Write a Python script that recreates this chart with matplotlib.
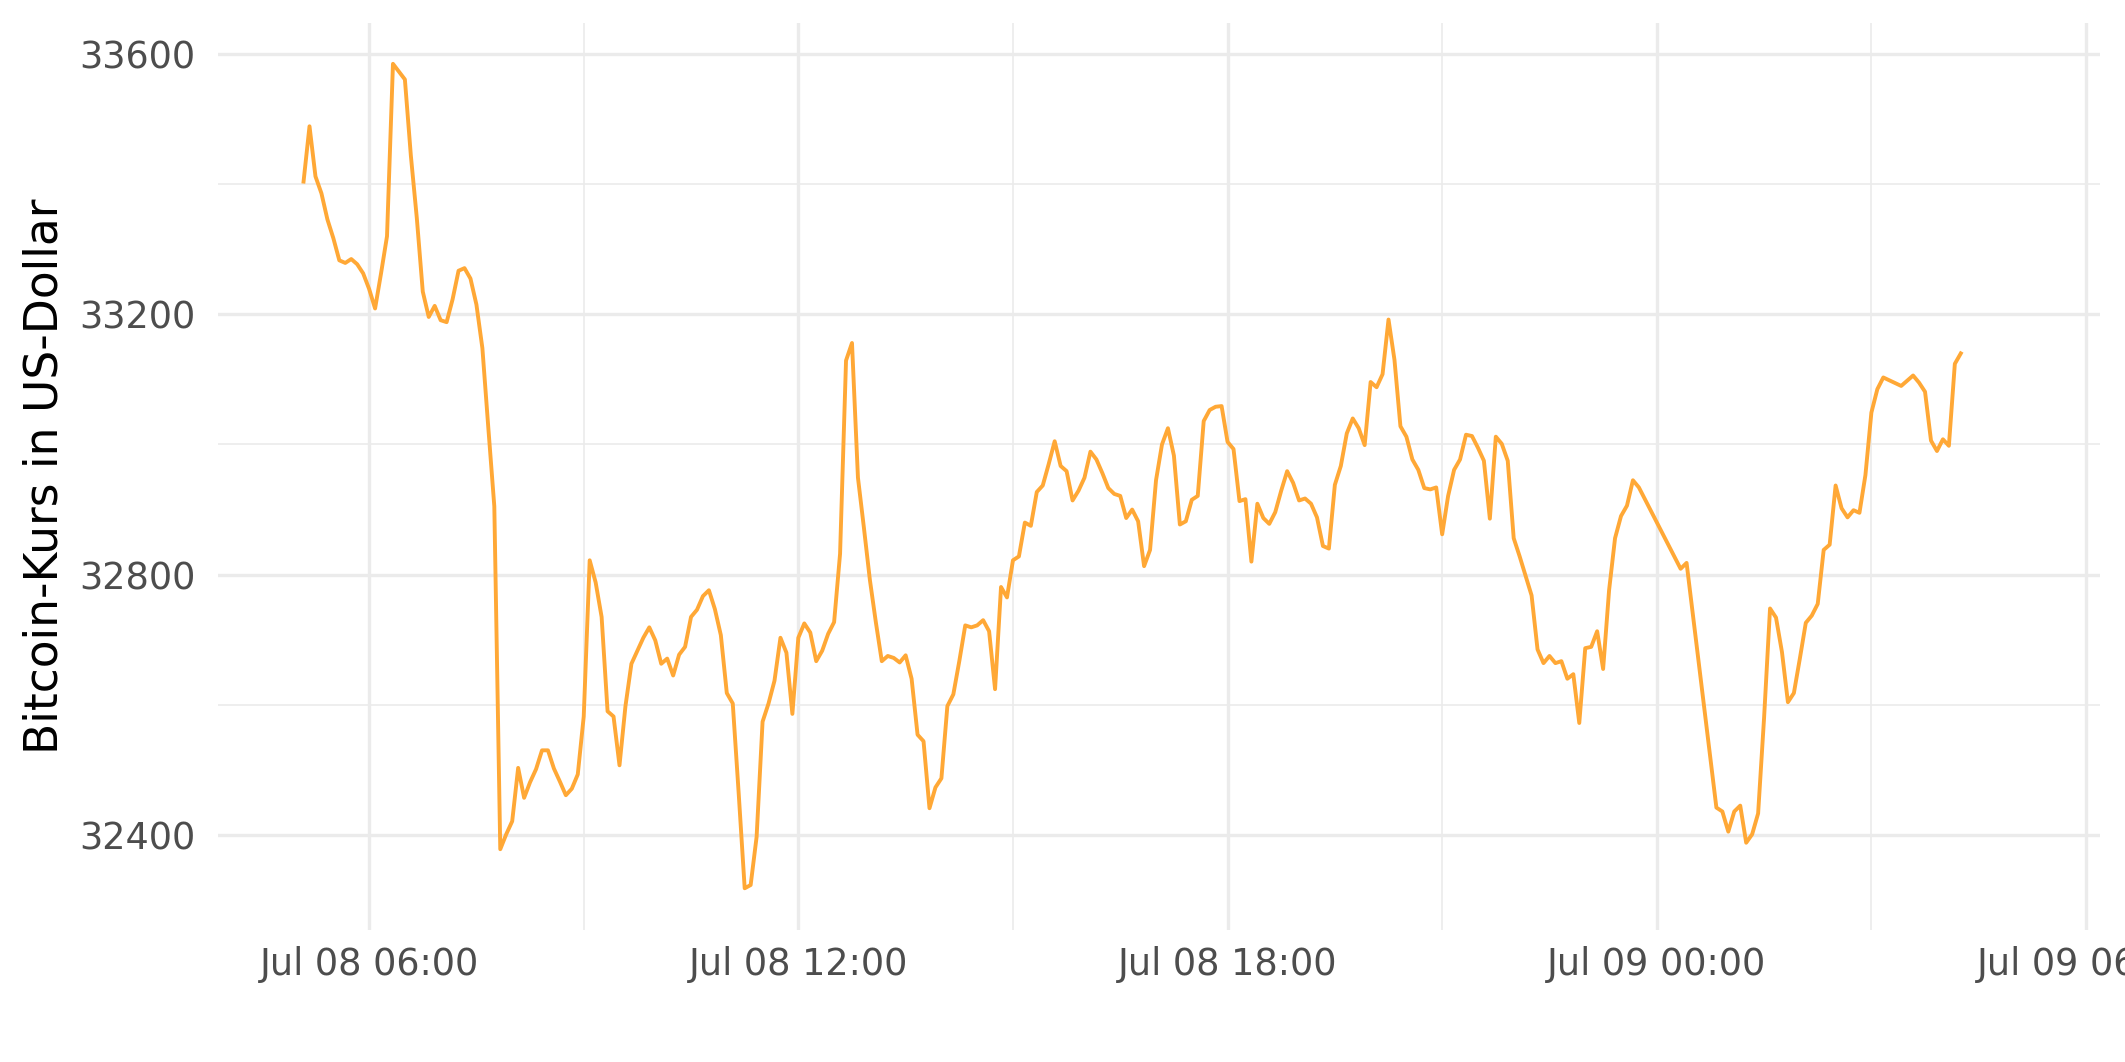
import numpy as np
import pandas as pd
import matplotlib
matplotlib.use('Agg')
import matplotlib.pyplot as plt
import matplotlib.dates as mdates
from matplotlib.ticker import MultipleLocator

# Bitcoin-Kurs in 5-Minuten-Schritten ab 08.07.2021 05:05 (24 Stunden)
start_time = '2021-07-08 05:05'
step = '5min'
n_points = 288

# Kurse in US-Dollar, None = kein Wert vorhanden
price_usd = [
    33404, 33489, 33412, 33386, 33346, 33317, 33283, 33279, 33285, 33277,
    33263, 33239, 33209, 33263, 33320, 33585, 33573, 33561, 33444, 33348,
    33235, 33196, 33213, 33191, 33188, 33223, 33267, 33271, 33255, 33215,
    33148, 33025, 32905, 32378, 32401, 32421, 32503, 32457, 32481, 32501,
    32530, 32530, 32502, 32482, 32461, 32471, 32493, 32582, 32822, 32788,
    32735, 32590, 32582, 32507, 32598, 32663, 32683, 32703, 32719, 32699,
    32663, 32671, 32645, 32677, 32689, 32735, 32746, 32767, 32776, 32747,
    32707, 32618, 32602, 32463, 32318, 32323, 32397, 32574, 32602, 32637,
    32703, 32680, 32586, 32703, 32725, 32711, 32667, 32683, 32709, 32727,
    32832, 33129, 33156, 32949, 32872, 32792, 32727, 32667, 32675, 32672,
    32665, 32676, 32640, 32554, 32544, 32441, 32473, 32487, 32598, 32616,
    32667, 32722, 32719, 32722, 32730, 32713, 32624, 32781, 32765, 32822,
    32828, 32880, 32875, 32927, 32937, 32970, 33005, 32967, 32959, 32914,
    32929, 32949, 32989, 32977, 32956, 32933, 32924, 32921, 32887, 32900,
    32882, 32813, 32838, 32945, 33000, 33025, 32983, 32877, 32882, 32915,
    32921, 33036, 33053, 33058, 33059, 33004, 32993, 32913, 32916, 32820,
    32909, 32887, 32878, 32896, 32929, 32959, 32941, 32914, 32917, 32909,
    32888, 32844, 32840, 32938, 32967, 33017, 33040, 33025, 32999, 33096,
    33088, 33108, 33192, 33130, 33028, 33012, 32977, 32961, 32933, 32931,
    32934, 32862, 32921, 32961, 32977, 33015, 33013, 32995, 32975, 32886,
    33012, 33001, 32975, 32856, 32828, 32798, 32768, 32685, 32664, 32675,
    32664, 32667, 32640, 32647, 32572, 32687, 32689, 32713, 32655, 32776,
    32856, 32890, 32906, 32945, 32934, None, None, None, None, None,
    None, 32809, 32818, None, None, None, None, 32442, 32436, 32405,
    32436, 32445, 32388, 32401, 32433, 32580, 32748, 32734, 32681, 32604,
    32618, 32671, 32726, 32737, 32755, 32838, 32846, 32937, 32902, 32888,
    32899, 32895, 32953, 33049, 33085, 33103, None, None, 33090, None,
    33106, 33095, 33081, 33006, 32990, 33008, 32998, 33124, 33140,
]
# die letzten Werte fehlen noch
price_usd = price_usd + [None] * (n_points - len(price_usd))

y_title = 'Bitcoin-Kurs in US-Dollar'
line_color = '#FFA836'
grid_color = '#EBEBEB'
text_color = '#4D4D4D'

times = pd.date_range(start_time, periods=n_points, freq=step)
df = pd.DataFrame({'time': times, 'price': pd.to_numeric(pd.Series(price_usd), errors='coerce')})
valid = df.dropna()

fig = plt.figure(figsize=(10.625, 5.31), dpi=200)
ax = fig.add_axes([218 / 2125, 1 - 929.5 / 1062, (2100 - 218) / 2125, (929.5 - 22.6) / 1062])

ax.plot(valid['time'], valid['price'], color=line_color, lw=1.4)

# x-Achse wie bei ggplot: 5 % Rand um den ganzen Zeitraum
t0 = mdates.date2num(times[0])
t1 = mdates.date2num(times[-1])
pad_x = (t1 - t0) * 0.05
ax.set_xlim(t0 - pad_x, t1 + pad_x)
ymin, ymax = valid['price'].min(), valid['price'].max()
pad_y = (ymax - ymin) * 0.05
ax.set_ylim(ymin - pad_y, ymax + pad_y)

ax.xaxis.set_major_locator(mdates.HourLocator(byhour=[0, 6, 12, 18]))
ax.xaxis.set_minor_locator(mdates.HourLocator(byhour=[3, 9, 15, 21]))
ax.xaxis.set_major_formatter(mdates.DateFormatter('%b %d %H:%M'))
ax.yaxis.set_major_locator(MultipleLocator(400))
ax.yaxis.set_minor_locator(MultipleLocator(200))

ax.grid(which='major', color=grid_color, lw=1.2)
ax.grid(which='minor', color=grid_color, lw=0.6)
ax.set_axisbelow(True)
for s in ax.spines.values():
    s.set_visible(False)

ax.tick_params(axis='both', which='both', length=0, labelsize=13.2, labelcolor=text_color)
ax.tick_params(axis='x', pad=6)
ax.tick_params(axis='y', pad=8)

fig.text(45 / 2125, 1 - 476 / 1062, y_title, rotation=90, ha='center', va='center',
         fontsize=16.4, color='black')

fig.savefig('out.png', dpi=200)
